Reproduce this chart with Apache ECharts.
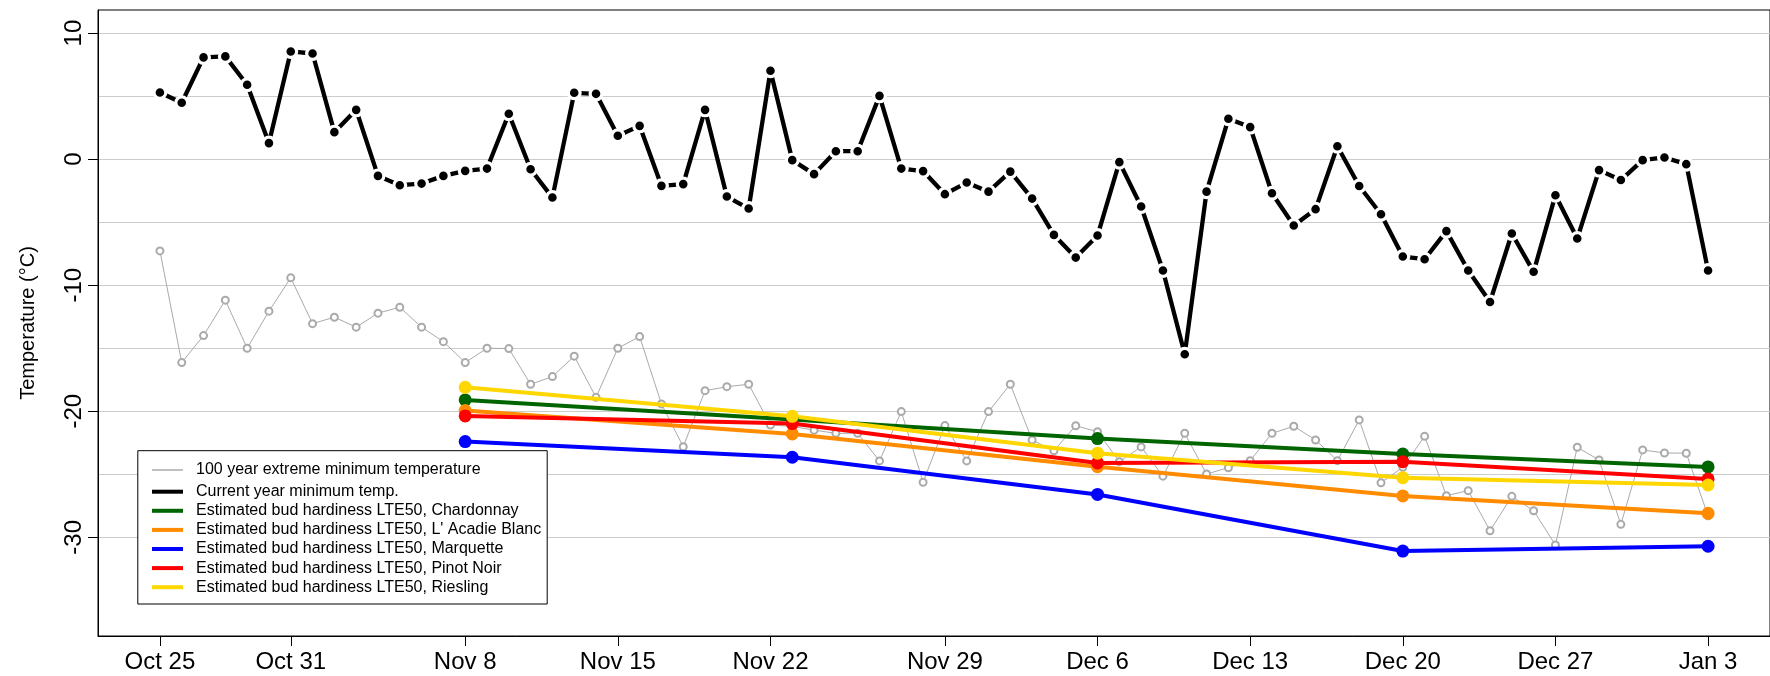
<!DOCTYPE html>
<html>
<head>
<meta charset="utf-8">
<script src="https://cdn.jsdelivr.net/npm/echarts@6/dist/echarts.min.js"></script>
<style>
html,body{margin:0;padding:0;background:#fff;}
#chart{width:1770px;height:676px;}
</style>
</head>
<body>
<div id="chart"></div>
<script>
// X positions are day indices; tick labels at given indices
var tickIdx = [0, 6, 14, 21, 28, 36, 43, 50, 57, 64, 71];
var tickLabels = ['Oct 25','Oct 31','Nov 8','Nov 15','Nov 22','Nov 29','Dec 6','Dec 13','Dec 20','Dec 27','Jan 3'];

// 100 year extreme minimum temperature (one value per day index 0..71)
var extremeMin = [
  -7.28, -16.14, -14.0, -11.19, -15.0, -12.06, -9.42, -13.05, -12.54, -13.33,
  -12.22, -11.75, -13.33, -14.48, -16.14, -15.0, -15.03, -17.86, -17.25, -15.63,
  -18.9, -15.0, -14.08, -19.42, -22.81, -18.37, -18.05, -17.86, -21.1, -21.2,
  -21.5, -21.75, -21.75, -23.94, -20.03, -25.63, -21.14, -23.94, -20.03, -17.86,
  -22.28, -23.13, -21.15, -21.62, -24.0, -22.83, -25.15, -21.75, -24.98, -24.48,
  -23.92, -21.75, -21.19, -22.28, -23.92, -20.69, -25.67, -24.44, -21.99, -26.70,
  -26.30, -29.48, -26.75, -27.89, -30.61, -22.86, -23.87, -28.97, -23.07, -23.31,
  -23.33, -28.3
];

// Current year minimum temperature
var currentMin = [
  5.29, 4.47, 8.07, 8.15, 5.90, 1.27, 8.54, 8.38, 2.14, 3.91,
  -1.33, -2.07, -1.94, -1.33, -0.93, -0.75, 3.60, -0.80, -3.05, 5.26,
  5.18, 1.85, 2.64, -2.12, -1.98, 3.91, -2.97, -3.92, 7.01, -0.08,
  -1.19, 0.63, 0.63, 5.02, -0.75, -0.95, -2.78, -1.86, -2.58, -0.99,
  -3.13, -6.01, -7.81, -6.06, -0.24, -3.76, -8.84, -15.48, -2.58, 3.20,
  2.54, -2.71, -5.27, -3.97, 1.02, -2.13, -4.37, -7.73, -7.94, -5.71,
  -8.84, -11.33, -5.90, -8.94, -2.86, -6.30, -0.87, -1.66, -0.08, 0.13,
  -0.40, -8.84
];

// Bud hardiness LTE50 estimates at these day indices
var hardIdx = [14, 29, 43, 57, 71];
var chardonnay = [-19.10, -20.65, -22.17, -23.39, -24.42];
var acadie     = [-19.95, -21.80, -24.40, -26.72, -28.10];
var marquette  = [-22.41, -23.65, -26.60, -31.09, -30.71];
var pinot      = [-20.37, -20.98, -24.10, -24.00, -25.37];
var riesling   = [-18.10, -20.40, -23.33, -25.27, -25.85];

var names = {
  extreme: '100 year extreme minimum temperature',
  current: 'Current year minimum temp.',
  chard: 'Estimated bud hardiness LTE50, Chardonnay',
  acadie: "Estimated bud hardiness LTE50, L' Acadie Blanc",
  marq: 'Estimated bud hardiness LTE50, Marquette',
  pinot: 'Estimated bud hardiness LTE50, Pinot Noir',
  ries: 'Estimated bud hardiness LTE50, Riesling'
};

function daily(arr) { return arr.map(function (v, i) { return [i, v]; }); }
function sparse(arr) { return arr.map(function (v, i) { return [hardIdx[i], v]; }); }

var FONT = "'Liberation Sans', Arial, Helvetica, sans-serif";

function hardSeries(name, color, values) {
  return {
    name: name, type: 'line', data: sparse(values),
    symbol: 'circle', symbolSize: 13,
    itemStyle: { color: color },
    lineStyle: { color: color, width: 4, cap: 'round' },
    emphasis: { disabled: true }, silent: true, animation: false, z: 4
  };
}
function legendItem(name, color) {
  return { name: name, icon: 'rect', itemStyle: { color: color, borderWidth: 0, borderColor: color } };
}

var chart = echarts.init(document.getElementById('chart'), null, { renderer: 'canvas' });
chart.setOption({
  backgroundColor: '#fff',
  animation: false,
  textStyle: { fontFamily: FONT },
  grid: { left: 98, top: 10, width: 1675, height: 626, show: true, borderColor: '#000', borderWidth: 1, containLabel: false },
  xAxis: {
    type: 'value', min: -2.84, max: 73.84,
    axisLine: { show: true, onZero: false, lineStyle: { color: '#000', width: 1 } },
    axisTick: { show: true, customValues: tickIdx, length: 10, lineStyle: { color: '#000', width: 1 } },
    axisLabel: {
      customValues: tickIdx, fontSize: 24, color: '#000', margin: 14, fontFamily: FONT,
      formatter: function (v) { var k = tickIdx.indexOf(Math.round(v)); return k >= 0 ? tickLabels[k] : ''; }
    },
    splitLine: { show: false }
  },
  yAxis: [{
    type: 'value', min: -37.83, max: 11.83, position: 'left',
    name: 'Temperature (°C)', nameLocation: 'middle', nameGap: 60,
    nameTextStyle: { fontSize: 20, color: '#000', fontFamily: FONT },
    axisLine: { show: true, onZero: false, lineStyle: { color: '#000', width: 1 } },
    axisTick: { show: true, customValues: [-30, -20, -10, 0, 10], length: 10, lineStyle: { color: '#000' } },
    axisLabel: { customValues: [-30, -20, -10, 0, 10], rotate: 90, fontSize: 24, color: '#000', margin: 12, fontFamily: FONT },
    splitLine: { show: false }
  }, {
    type: 'value', min: -37.83, max: 11.83, position: 'left',
    axisLine: { show: false, onZero: false }, axisLabel: { show: false },
    axisTick: { show: false, customValues: [-30, -25, -20, -15, -10, -5, 0, 5, 10] },
    splitLine: { show: true, lineStyle: { color: '#cccccc', width: 1 } }
  }],
  legend: [{
    data: [legendItem(names.extreme, '#aaaaaa')],
    orient: 'vertical', left: 152, top: 462, padding: 0,
    itemWidth: 31, itemHeight: 1.5, itemGap: 0, selectedMode: false, z: 20,
    textStyle: { fontSize: 16, color: '#000', lineHeight: 16, fontFamily: FONT, padding: [0, 0, 0, 8] }
  }, {
    data: [
      legendItem(names.current, '#000000'),
      legendItem(names.chard, '#006400'),
      legendItem(names.acadie, '#FF8C00'),
      legendItem(names.marq, '#0000FF'),
      legendItem(names.pinot, '#FF0000'),
      legendItem(names.ries, '#FFD700')
    ],
    orient: 'vertical', left: 152, top: 483.7, padding: 0,
    itemWidth: 31, itemHeight: 4, itemGap: 3.1, selectedMode: false, z: 20,
    textStyle: { fontSize: 16, color: '#000', lineHeight: 16, fontFamily: FONT, padding: [0, 0, 0, 8] }
  }],
  graphic: [{
    type: 'rect', z: 10, silent: true,
    shape: { x: 137.8, y: 450.7, width: 409.4, height: 153.3 },
    style: { fill: '#fff', stroke: '#000', lineWidth: 1 }
  }],
  series: [{
    name: names.extreme, type: 'line', data: daily(extremeMin),
    symbol: 'emptyCircle', symbolSize: 7,
    itemStyle: { color: '#aaaaaa', borderWidth: 1 },
    lineStyle: { color: '#aaaaaa', width: 1 },
    emphasis: { disabled: true }, silent: true, animation: false, z: 2
  }, {
    name: names.current, type: 'line', data: daily(currentMin),
    symbol: 'circle', symbolSize: 11.8,
    itemStyle: { color: '#000', borderColor: '#fff', borderWidth: 3.2 },
    lineStyle: { color: '#000', width: 4.3, cap: 'round' },
    emphasis: { disabled: true }, silent: true, animation: false, z: 3
  },
    hardSeries(names.chard, '#006400', chardonnay),
    hardSeries(names.acadie, '#FF8C00', acadie),
    hardSeries(names.marq, '#0000FF', marquette),
    hardSeries(names.pinot, '#FF0000', pinot),
    hardSeries(names.ries, '#FFD700', riesling)
  ]
});
</script>
</body>
</html>
